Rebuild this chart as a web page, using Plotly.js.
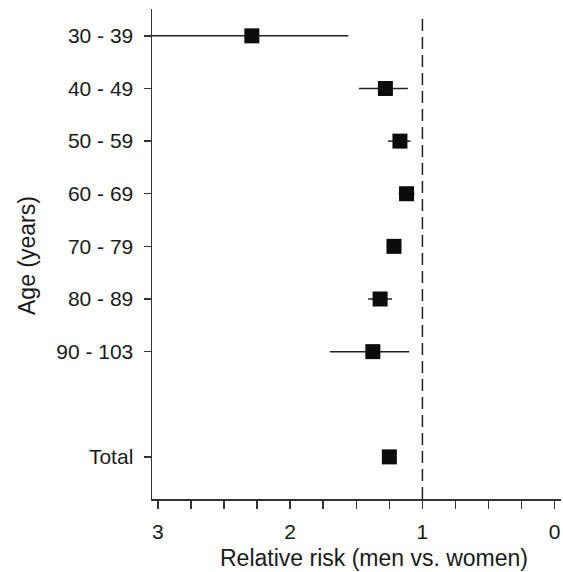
<!DOCTYPE html>
<html>
<head>
<meta charset="utf-8">
<script src="https://cdn.plot.ly/plotly-3.0.1.min.js"></script>
<style>html,body{margin:0;padding:0;background:#fff;}#chart{width:563px;height:572px;}</style>
</head>
<body>
<div id="chart"></div>
<script>
// Data
var ageGroups = ['30 - 39', '40 - 49', '50 - 59', '60 - 69', '70 - 79', '80 - 89', '90 - 103', 'Total'];
var relativeRisk = [2.29, 1.28, 1.17, 1.12, 1.215, 1.32, 1.375, 1.25];
var ciUpper = [3.30, 1.48, 1.26, 1.18, 1.27, 1.41, 1.70, 1.25];
var ciLower = [1.56, 1.11, 1.09, 1.06, 1.16, 1.23, 1.10, 1.25];
var referenceValue = 1;
var xTickValues = [3, 2.75, 2.5, 2.25, 2, 1.75, 1.5, 1.25, 1, 0.75, 0.5, 0.25, 0];
var xTickLabels = ['3', '', '', '', '2', '', '', '', '1', '', '', '', '0'];
var spacer = ' ';
var categoryOrder = ageGroups.slice(0, 7).concat([spacer, 'Total']);

var font = 'Liberation Sans, Arial, sans-serif';
var trace = {
  type: 'scatter',
  mode: 'markers',
  x: relativeRisk,
  y: ageGroups,
  marker: {symbol: 'square', size: 15, color: '#0b0b0b', line: {width: 0}},
  error_x: {
    type: 'data', symmetric: false,
    array: ciUpper.map(function (u, i) { return u - relativeRisk[i]; }),
    arrayminus: ciLower.map(function (l, i) { return relativeRisk[i] - l; }),
    color: '#222', thickness: 1.5, width: 0
  },
  hoverinfo: 'x+y',
  showlegend: false
};

var layout = {
  width: 563, height: 572,
  margin: {l: 152, r: 2, t: 9, b: 73, pad: 0},
  paper_bgcolor: '#fff', plot_bgcolor: '#fff',
  font: {family: font, color: '#1a1a1a', size: 21},
  xaxis: {
    range: [3.045, -0.048],
    tickmode: 'array', tickvals: xTickValues, ticktext: xTickLabels,
    ticks: 'outside', ticklen: 8, tickwidth: 1.5, tickcolor: '#333',
    showline: true, linecolor: '#333', linewidth: 1.5,
    showgrid: false, zeroline: false,
    tickfont: {size: 21, family: font, color: '#1a1a1a'},
    ticklabelstandoff: 5
  },
  yaxis: {
    type: 'category',
    categoryorder: 'array', categoryarray: categoryOrder,
    range: [8.8, -0.51],
    tickmode: 'array', tickvals: ageGroups, ticktext: ageGroups,
    ticks: 'outside', ticklen: 7, tickwidth: 1.5, tickcolor: '#333',
    showline: true, linecolor: '#333', linewidth: 1.5,
    showgrid: false, zeroline: false,
    tickfont: {size: 21, family: font, color: '#1a1a1a'},
    ticklabelstandoff: 6
  },
  shapes: [{
    type: 'line', xref: 'x', yref: 'paper',
    x0: referenceValue, x1: referenceValue, y0: 0, y1: 0.99,
    line: {color: '#222', width: 1.5, dash: '12px,6px'}
  }],
  annotations: [
    {text: 'Relative risk (men vs. women)', xref: 'paper', yref: 'paper',
     x: (373.5 - 152) / 409, y: -(558 - 499) / 490, xanchor: 'center', yanchor: 'middle',
     showarrow: false, font: {size: 23, family: font, color: '#1a1a1a'}},
    {text: 'Age (years)', xref: 'paper', yref: 'paper',
     x: -(152 - 27) / 409, y: (499 - 255) / 490, xanchor: 'center', yanchor: 'middle',
     textangle: -90, showarrow: false, font: {size: 23, family: font, color: '#1a1a1a'}}
  ]
};

Plotly.newPlot('chart', [trace], layout, {displayModeBar: false, staticPlot: true});
</script>
</body>
</html>
